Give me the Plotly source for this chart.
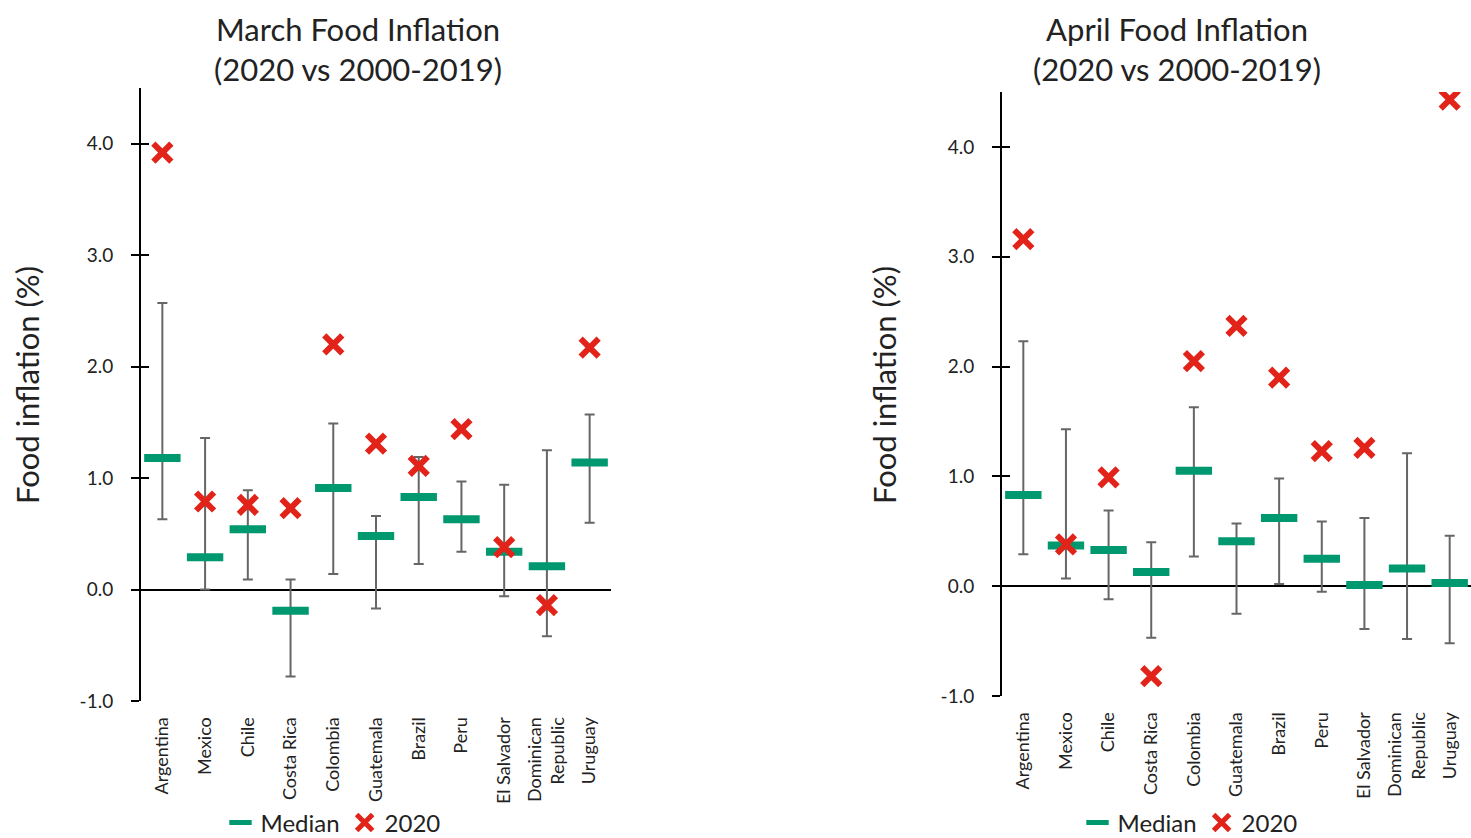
import plotly.graph_objects as go

countries = ["Argentina", "Mexico", "Chile", "Costa Rica", "Colombia", "Guatemala",
             "Brazil", "Peru", "El Salvador", "Dominican<br>Republic", "Uruguay"]

# March: 2000-2019 median, min, max and the 2020 value (%)
mar_median = [1.18, 0.29, 0.54, -0.19, 0.91, 0.48, 0.83, 0.63, 0.34, 0.21, 1.14]
mar_low = [0.63, 0.00, 0.09, -0.78, 0.14, -0.17, 0.23, 0.34, -0.06, -0.42, 0.60]
mar_high = [2.57, 1.36, 0.89, 0.09, 1.49, 0.66, 1.19, 0.97, 0.94, 1.25, 1.57]
mar_2020 = [3.92, 0.79, 0.76, 0.73, 2.20, 1.31, 1.11, 1.44, 0.38, -0.14, 2.17]

# April: 2000-2019 median, min, max and the 2020 value (%)
apr_median = [0.83, 0.37, 0.33, 0.13, 1.05, 0.41, 0.62, 0.25, 0.01, 0.16, 0.03]
apr_low = [0.29, 0.07, -0.12, -0.47, 0.27, -0.25, 0.02, -0.05, -0.39, -0.48, -0.52]
apr_high = [2.23, 1.43, 0.69, 0.40, 1.63, 0.57, 0.98, 0.59, 0.62, 1.21, 0.46]
apr_2020 = [3.16, 0.38, 0.99, -0.82, 2.05, 2.37, 1.90, 1.23, 1.26, None, 4.43]

W, H = 1471, 838
FONT = "Lato"
GREEN = "#00996f"
RED = "#e2231a"
GREY = "#666666"
TXT = "#222222"

fig = go.Figure()


def add_panel(median, low, high, v2020, xa, ya, legend):
    up = [h - m for h, m in zip(high, median)]
    down = [m - l for m, l in zip(median, low)]
    fig.add_trace(go.Scatter(
        x=countries, y=median, mode="markers", xaxis=xa, yaxis=ya,
        marker=dict(size=2, color="rgba(0,0,0,0)"),
        error_y=dict(type="data", array=up, arrayminus=down, color=GREY,
                     thickness=2, width=5),
        showlegend=False, hoverinfo="skip"))
    fig.add_trace(go.Scatter(
        x=countries, y=median, mode="markers", name="Median", xaxis=xa, yaxis=ya,
        marker=dict(symbol="line-ew", size=26, color=GREEN,
                    line=dict(color=GREEN, width=8)),
        legend=legend))
    fig.add_trace(go.Scatter(
        x=countries, y=v2020, mode="markers", name="2020", xaxis=xa, yaxis=ya,
        marker=dict(symbol="x-thin", size=18, color=RED,
                    line=dict(color=RED, width=6)),
        legend=legend))


add_panel(mar_median, mar_low, mar_high, mar_2020, "x", "y", "legend")
add_panel(apr_median, apr_low, apr_high, apr_2020, "x2", "y2", "legend2")

yrange = [-1.0, 4.5]
ticks = [-1.0, 0.0, 1.0, 2.0, 3.0, 4.0]
ytick_labels = ["-1.0", "0.0", "1.0", "2.0", "3.0", "4.0"]

yax = dict(range=yrange, tickvals=ticks, ticktext=ytick_labels,
           showline=True, linecolor="black", linewidth=2,
           ticks="outside", ticklen=8, tickwidth=2, tickcolor="black",
           showgrid=False, zeroline=True, zerolinecolor="black", zerolinewidth=2,
           tickfont=dict(family=FONT, size=19, color=TXT),
           ticklabelstandoff=14, fixedrange=True)
# companion axes supply the inner half of the cross ticks
yin = dict(range=yrange, tickvals=ticks, showticklabels=False,
           showline=False, ticks="inside", ticklen=8, tickwidth=2,
           tickcolor="black", showgrid=False, zeroline=False, fixedrange=True)
xax = dict(range=[-0.5, 10.5], showline=False, showgrid=False, zeroline=False,
           ticks="outside", ticklen=8, tickcolor="rgba(0,0,0,0)",
           tickangle=-90, tickfont=dict(family=FONT, size=18, color=TXT),
           fixedrange=True)

L_x = [141 / W, 611 / W]
L_y = [1 - 701 / H, 1 - 88 / H]
R_x = [1002 / W, 1.0]
R_y = [1 - 696 / H, 1 - 92 / H]

legend_style = dict(orientation="h", xanchor="center", y=1 - 823 / H,
                    yanchor="middle", font=dict(family=FONT, size=24, color=TXT),
                    itemwidth=30, tracegroupgap=0, bgcolor="rgba(0,0,0,0)")

fig.update_layout(
    width=W, height=H, margin=dict(l=0, r=0, t=0, b=0, autoexpand=False),
    paper_bgcolor="white", plot_bgcolor="white",
    font=dict(family=FONT, color=TXT),
    xaxis=dict(xax, domain=L_x, anchor="y"),
    yaxis=dict(yax, domain=L_y, anchor="x"),
    xaxis2=dict(xax, domain=R_x, anchor="y2"),
    yaxis2=dict(yax, domain=R_y, anchor="x2"),
    yaxis3=dict(yin, overlaying="y", anchor="x"),
    yaxis4=dict(yin, overlaying="y2", anchor="x2"),
    legend=dict(legend_style, x=333 / W),
    legend2=dict(legend_style, x=1190 / W),
    showlegend=True,
)

# invisible traces so the inner-tick axes are drawn
for ya, xa in (("y3", "x"), ("y4", "x2")):
    fig.add_trace(go.Scatter(x=[countries[0]], y=[0], xaxis=xa, yaxis=ya,
                             mode="markers", marker=dict(color="rgba(0,0,0,0)"),
                             showlegend=False, hoverinfo="skip"))

titles = [
    ("March Food Inflation<br>(2020 vs 2000-2019)", 358),
    ("April Food Inflation<br>(2020 vs 2000-2019)", 1177),
]
for text, cx in titles:
    fig.add_annotation(text=text, x=cx / W, y=1 - 49 / H, xref="paper", yref="paper",
                       showarrow=False, xanchor="center", yanchor="middle",
                       font=dict(family=FONT, size=31, color=TXT))

for cx, cy in ((27, 385), (884, 385)):
    fig.add_annotation(text="Food inflation (%)", x=cx / W, y=1 - cy / H,
                       xref="paper", yref="paper", showarrow=False, textangle=-90,
                       xanchor="center", yanchor="middle",
                       font=dict(family=FONT, size=31, color=TXT))

fig.write_html("out.html")
